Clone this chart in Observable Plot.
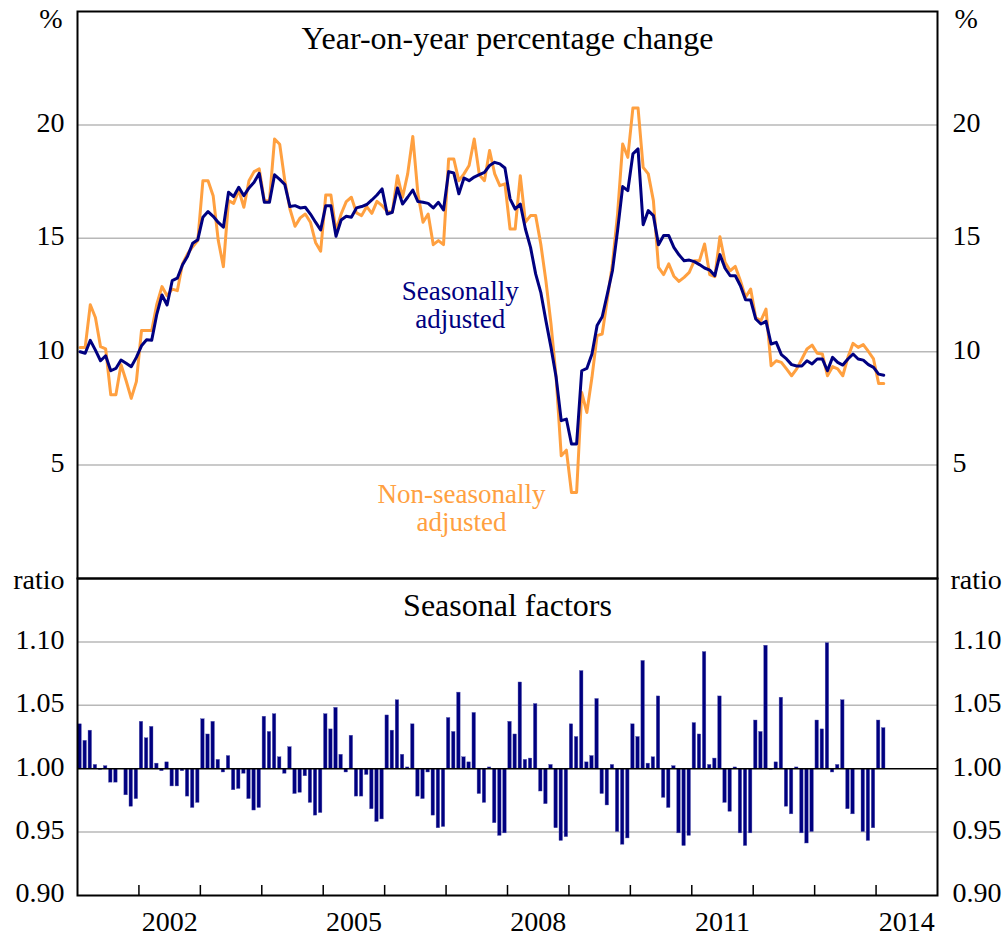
<!DOCTYPE html>
<html>
<head>
<meta charset="utf-8">
<script src="https://cdn.jsdelivr.net/npm/d3@7"></script>
<script src="https://cdn.jsdelivr.net/npm/@observablehq/plot@0.6"></script>
<style>
  html, body { margin: 0; padding: 0; background: white; }
  #chart { position: relative; width: 1008px; height: 940px; }
  #chart svg { position: absolute; left: 0; overflow: visible; }
</style>
</head>
<body>
<div id="chart"></div>
<script>
// ---- Data (monthly, Jan 2001 – Feb 2014) ----
const startYear = 2001;

// Year-on-year % change, seasonally adjusted
const seasonallyAdjusted = [
  10.0, 9.93, 10.5, 10.07, 9.6, 9.82, 9.16, 9.26, 9.63, 9.49, 9.34, 9.75,
  10.26, 10.53, 10.51, 11.66, 12.5, 12.06, 13.13, 13.24, 13.82, 14.21, 14.78, 14.94,
  15.93, 16.18, 15.97, 15.7, 15.49, 17.03, 16.84, 17.25, 16.88, 17.22, 17.47, 17.87,
  16.59, 16.59, 17.8, 17.6, 17.37, 16.4, 16.44, 16.34, 16.37, 16.07, 15.71, 15.37,
  16.44, 16.44, 15.09, 15.81, 15.97, 15.93, 16.34, 16.4, 16.49, 16.69, 16.91, 17.18,
  16.07, 16.15, 17.22, 16.51, 16.81, 17.13, 16.62, 16.59, 16.54, 16.34, 16.59, 16.25,
  17.94, 17.88, 16.96, 17.66, 17.54, 17.7, 17.81, 17.91, 18.21, 18.35, 18.28, 18.1,
  16.74, 16.29, 16.51, 15.41, 14.6, 13.43, 12.62, 11.37, 10.19, 8.87, 6.96, 7.03,
  5.93, 5.93, 9.16, 9.26, 9.9, 11.15, 11.54, 12.54, 13.57, 15.34, 17.28, 17.1,
  18.72, 18.94, 15.6, 16.22, 16.0, 14.72, 15.12, 15.12, 14.6, 14.27, 14.01, 14.04,
  13.97, 13.84, 13.69, 13.6, 13.35, 14.28, 13.68, 13.35, 13.35, 12.91, 12.29, 12.28,
  11.44, 11.22, 11.34, 10.34, 10.41, 9.87, 9.68, 9.43, 9.37, 9.37, 9.6, 9.46,
  9.68, 9.68, 9.16, 9.75, 9.53, 9.41, 9.68, 9.9, 9.68, 9.63, 9.43, 9.31,
  9.01, 8.96
];

// Year-on-year % change, non-seasonally adjusted
const nonSeasonallyAdjusted = [
  10.19, 10.19, 12.07, 11.51, 10.22, 10.12, 8.1, 8.1, 9.43, 8.72, 7.94, 8.68,
  10.93, 10.93, 10.93, 12.1, 12.87, 12.47, 12.76, 12.69, 13.87, 14.31, 14.63, 14.9,
  17.54, 17.54, 16.88, 14.9, 13.75, 16.66, 16.54, 17.13, 16.37, 17.54, 17.94, 18.06,
  16.66, 16.66, 19.38, 19.15, 17.54, 16.29, 15.53, 15.9, 16.07, 15.71, 14.82, 14.43,
  16.91, 16.91, 15.31, 16.07, 16.62, 16.81, 16.12, 16.0, 16.4, 16.1, 16.63, 16.44,
  16.18, 16.15, 17.76, 16.81, 17.84, 19.49, 16.96, 15.71, 16.07, 14.72, 14.9, 14.72,
  18.5, 18.5, 17.54, 17.84, 18.21, 19.38, 17.8, 17.54, 18.87, 17.84, 17.32, 17.4,
  15.41, 15.41, 17.76, 15.71, 16.0, 16.0, 14.75, 13.13, 11.22, 8.87, 5.41, 5.66,
  3.79, 3.79, 8.2, 7.32, 8.87, 10.71, 10.78, 12.32, 13.87, 16.07, 19.16, 18.57,
  20.75, 20.75, 18.13, 17.84, 16.66, 13.72, 13.4, 13.87, 13.33, 13.1, 13.28, 13.5,
  14.01, 14.01, 14.75, 13.4, 13.31, 15.07, 13.94, 13.57, 13.76, 13.13, 12.4, 12.76,
  11.49, 11.37, 11.88, 9.38, 9.6, 9.53, 9.24, 8.94, 9.24, 9.68, 10.12, 10.29,
  9.93, 9.9, 8.94, 9.34, 9.24, 8.94, 9.75, 10.37, 10.19, 10.31, 10.01, 9.68,
  8.6, 8.6
];

// Seasonal factors (ratio)
const seasonalFactors = [
  1.035, 1.022, 1.030, 1.003, 0.999, 1.002, 0.989, 0.989, 1.000, 0.979, 0.970, 0.976,
  1.037, 1.024, 1.033, 1.004, 0.998, 1.005, 0.986, 0.986, 0.998, 0.978, 0.969, 0.973,
  1.039, 1.027, 1.037, 1.007, 0.997, 1.010, 0.983, 0.984, 0.996, 0.976, 0.967, 0.969,
  1.041, 1.029, 1.043, 1.009, 0.996, 1.017, 0.980, 0.981, 0.994, 0.973, 0.963, 0.965,
  1.043, 1.031, 1.048, 1.011, 0.997, 1.026, 0.978, 0.978, 0.995, 0.968, 0.958, 0.960,
  1.042, 1.030, 1.054, 1.011, 1.001, 1.035, 0.978, 0.976, 0.997, 0.963, 0.953, 0.954,
  1.040, 1.029, 1.060, 1.009, 1.005, 1.044, 0.980, 0.973, 1.001, 0.957, 0.947, 0.949,
  1.037, 1.027, 1.068, 1.007, 1.008, 1.051, 0.982, 0.972, 1.003, 0.953, 0.943, 0.946,
  1.035, 1.025, 1.077, 1.005, 1.010, 1.055, 0.980, 0.971, 1.003, 0.950, 0.940, 0.945,
  1.035, 1.025, 1.085, 1.004, 1.009, 1.057, 0.977, 0.969, 1.002, 0.949, 0.939, 0.947,
  1.036, 1.027, 1.092, 1.003, 1.008, 1.057, 0.973, 0.966, 1.001, 0.949, 0.939, 0.949,
  1.038, 1.029, 1.097, 0.999, 1.005, 1.056, 0.970, 0.964, 1.001, 0.949, 0.941, 0.950,
  1.038, 1.031, 1.099, 0.997, 1.003, 1.054, 0.968, 0.964, 1.000, 0.950, 0.943, 0.953,
  1.038, 1.032
];

// Axis ticks and labels
const topTicks = [5, 10, 15, 20];
const bottomTicks = [0.90, 0.95, 1.00, 1.05, 1.10];
const yearTicks = [2002, 2003, 2004, 2005, 2006, 2007, 2008, 2009, 2010, 2011, 2012, 2013, 2014];
const yearLabels = [2002, 2005, 2008, 2011, 2014];

const titleTop = "Year-on-year percentage change";
const titleBottom = "Seasonal factors";
const labelSA = "Seasonally\nadjusted";
const labelNSA = "Non-seasonally\nadjusted";

// ---- Build rows ----
const rows = seasonallyAdjusted.map((v, i) => ({
  t0: startYear + i / 12,
  t1: startYear + (i + 1) / 12,
  tm: startYear + (i + 0.5) / 12,
  sa: v,
  nsa: nonSeasonallyAdjusted[i],
  sf: seasonalFactors[i]
}));

const NAVY = "#000080";
const ORANGE = "#FFA040";
const GRID = "#b8b8b8";
const FONT = "'Liberation Serif', 'Times New Roman', Times, serif";
const xDomain = [2001, 2015];
const common = {
  width: 1008,
  marginLeft: 77,
  marginRight: 71,
  style: { fontFamily: FONT, fontSize: "28px", background: "transparent", overflow: "visible", color: "black" }
};

const tickFS = 28;

const topPlot = Plot.plot({
  ...common,
  height: 578,
  marginTop: 11,
  marginBottom: 0,
  x: { domain: xDomain, axis: null },
  y: { domain: [0, 25], axis: null },
  marks: [
    Plot.ruleY(topTicks, { stroke: GRID, strokeWidth: 1.5 }),
    Plot.line(rows, { x: "tm", y: "nsa", stroke: ORANGE, strokeWidth: 3 }),
    Plot.line(rows, { x: "tm", y: "sa", stroke: NAVY, strokeWidth: 3 }),
    Plot.frame({ stroke: "black", strokeWidth: 2 }),
    Plot.text(topTicks, { x: xDomain[0], y: d => d, text: d => String(d), textAnchor: "end", dx: -13, dy: -2, fontSize: tickFS, fill: "black" }),
    Plot.text(topTicks, { x: xDomain[1], y: d => d, text: d => String(d), textAnchor: "start", dx: 15, dy: -2, fontSize: tickFS, fill: "black" }),
    Plot.text(["%"], { x: xDomain[0], y: 25, text: d => d, textAnchor: "end", dx: -15, dy: 8, fontSize: tickFS, fill: "black" }),
    Plot.text(["%"], { x: xDomain[1], y: 25, text: d => d, textAnchor: "start", dx: 17, dy: 8, fontSize: tickFS, fill: "black" }),
    Plot.text([titleTop], { frameAnchor: "top", lineAnchor: "middle", text: d => d, dy: 27, fontSize: 32, fill: "black" }),
    Plot.text([labelSA], { x: 2007.23, y: 12.05, text: d => d, fontSize: 27, fill: NAVY, lineHeight: 1.05 }),
    Plot.text([labelNSA], { x: 2007.25, y: 3.1, text: d => d, fontSize: 27, fill: ORANGE, lineHeight: 1.05 })
  ]
});

const bottomPlot = Plot.plot({
  ...common,
  height: 392,
  marginTop: 30,
  marginBottom: 45,
  x: { domain: xDomain, axis: null },
  y: { domain: [0.90, 1.15], axis: null },
  marks: [
    Plot.ruleY([0.95, 1.05, 1.10], { stroke: GRID, strokeWidth: 1.5 }),
    Plot.rect(rows, { x1: "t0", x2: "t1", y1: 1, y2: "sf", fill: NAVY, stroke: "#5a5ab0", strokeWidth: 0.4, insetLeft: 0.8, insetRight: 0.8 }),
    Plot.ruleY([1], { stroke: "black", strokeWidth: 1.5 }),
    Plot.ruleX(yearTicks, { x: d => d, stroke: "black", strokeWidth: 1.5, insetTop: 307 }),
    Plot.frame({ stroke: "black", strokeWidth: 2 }),
    Plot.text(bottomTicks, { x: xDomain[0], y: d => d, text: d => d.toFixed(2), textAnchor: "end", dx: -13, dy: -2, fontSize: tickFS, fill: "black" }),
    Plot.text(bottomTicks, { x: xDomain[1], y: d => d, text: d => d.toFixed(2), textAnchor: "start", dx: 15, dy: -2, fontSize: tickFS, fill: "black" }),
    Plot.text(["ratio"], { x: xDomain[0], y: 1.15, text: d => d, textAnchor: "end", dx: -13, dy: 2, fontSize: tickFS, fill: "black" }),
    Plot.text(["ratio"], { x: xDomain[1], y: 1.15, text: d => d, textAnchor: "start", dx: 13, dy: 2, fontSize: tickFS, fill: "black" }),
    Plot.text([titleBottom], { frameAnchor: "top", lineAnchor: "middle", text: d => d, dy: 27, fontSize: 32, fill: "black" }),
    Plot.text(yearLabels, { x: d => d + 0.5, y: 0.90, text: d => String(d), dy: 27, fontSize: tickFS, fill: "black" })
  ]
});

const chart = document.getElementById("chart");
topPlot.style.top = "0px";
bottomPlot.style.top = "548px";
chart.appendChild(topPlot);
chart.appendChild(bottomPlot);
</script>
</body>
</html>
